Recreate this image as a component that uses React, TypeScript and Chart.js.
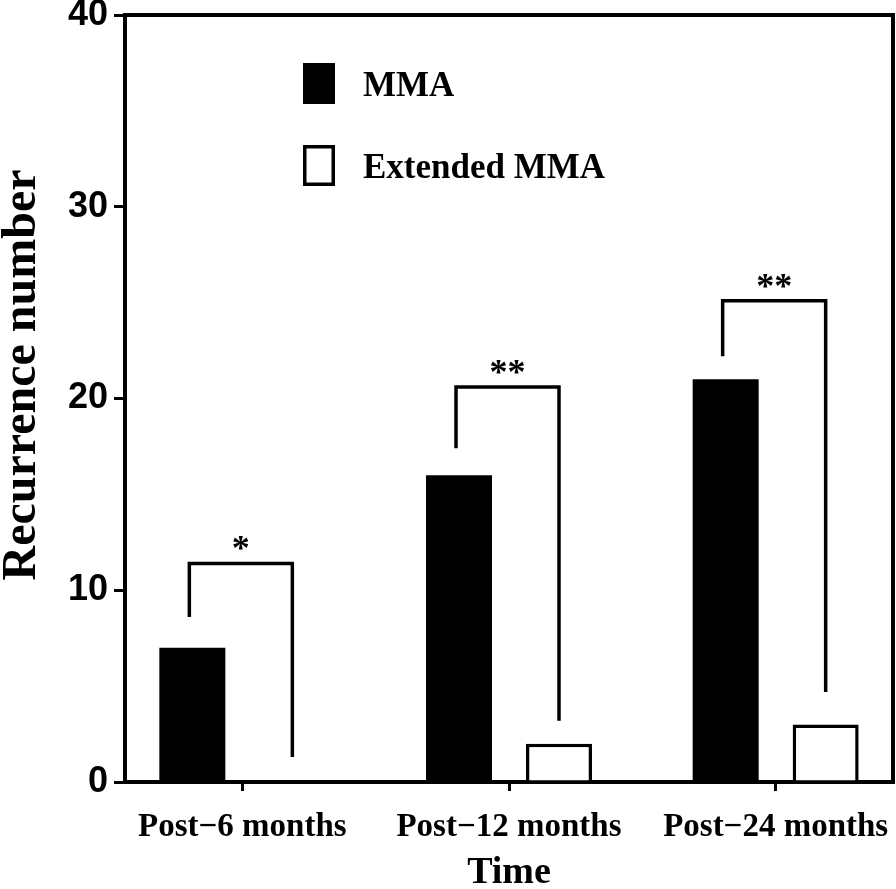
import React, { useEffect, useRef } from "react";
import { Chart, registerables } from "chart.js";

Chart.register(...registerables);

// ---- data ----
const categories = ["Post−6 months", "Post−12 months", "Post−24 months"];
const seriesLabels = ["MMA", "Extended MMA"];
const mmaValues = [7, 16, 21];
const extendedValues = [0, 2, 3];
const yTickValues = [0, 10, 20, 30, 40];
// significance brackets (data units)
const bracketTop = [11.4, 20.6, 25.1];
const bracketLeftEnd = [8.6, 17.4, 22.2];
const bracketRightEnd = [1.3, 3.2, 4.7];
const significance = ["*", "**", "**"];
const xTitle = "Time";
const yTitle = "Recurrence number";

const SERIF = "'Liberation Serif', 'Times New Roman', Times, serif";
const SANS = "'Liberation Sans', Arial, Helvetica, sans-serif";

function fillInkCentered(ctx: CanvasRenderingContext2D, text: string, x: number, cy: number) {
  ctx.textBaseline = "alphabetic";
  const m = ctx.measureText(text);
  const asc = m.actualBoundingBoxAscent;
  const desc = m.actualBoundingBoxDescent;
  ctx.fillText(text, x, cy + (asc - desc) / 2);
}

const decorations = {
  id: "decorations",
  afterDatasetsDraw(chart: any) {
    const { ctx, chartArea, scales } = chart;
    const y = scales.y;
    const m0 = chart.getDatasetMeta(0);
    const m1 = chart.getDatasetMeta(1);
    ctx.save();
    ctx.strokeStyle = "#000";
    ctx.fillStyle = "#000";
    ctx.lineCap = "butt";
    ctx.lineJoin = "miter";

    // frame (top + right)
    ctx.lineWidth = 4;
    ctx.beginPath();
    ctx.moveTo(chartArea.left, chartArea.top);
    ctx.lineTo(chartArea.right, chartArea.top);
    ctx.lineTo(chartArea.right, chartArea.bottom);
    ctx.stroke();

    // brackets
    ctx.lineWidth = 3.5;
    categories.forEach((_, i) => {
      const xl = m0.data[i].x - 3;
      const xr = m1.data[i].x;
      const yt = y.getPixelForValue(bracketTop[i]);
      ctx.beginPath();
      ctx.moveTo(xl, y.getPixelForValue(bracketLeftEnd[i]));
      ctx.lineTo(xl, yt);
      ctx.lineTo(xr, yt);
      ctx.lineTo(xr, y.getPixelForValue(bracketRightEnd[i]));
      ctx.stroke();
      ctx.font = `bold 36px ${SERIF}`;
      ctx.textAlign = "center";
      fillInkCentered(ctx, significance[i], (xl + xr) / 2, yt - 20);
    });

    // legend
    const boxX = 303, boxW = 32, boxH = 41;
    const boxTops = [63, 145];
    chart.data.datasets.forEach((ds: any, i: number) => {
      const top = boxTops[i];
      ctx.fillStyle = ds.backgroundColor;
      ctx.fillRect(boxX, top, boxW, boxH);
      ctx.strokeStyle = "#000";
      ctx.lineWidth = 3.5;
      ctx.strokeRect(boxX + 1.75, top + 1.75, boxW - 3.5, boxH - 3.5);
      ctx.fillStyle = "#000";
      ctx.font = `bold 35px ${SERIF}`;
      ctx.textAlign = "left";
      fillInkCentered(ctx, ds.label, 363, top + boxH / 2);
    });

    // y title
    ctx.translate(17.5, 375);
    ctx.rotate(-Math.PI / 2);
    ctx.font = `bold 48px ${SERIF}`;
    ctx.textAlign = "center";
    ctx.fillStyle = "#000";
    fillInkCentered(ctx, yTitle, 0, 0);
    ctx.restore();
  },
};

export default function App() {
  const ref = useRef<HTMLCanvasElement | null>(null);
  useEffect(() => {
    if (!ref.current) return;
    const chart = new Chart(ref.current, {
      type: "bar",
      data: {
        datasets: [
          {
            label: seriesLabels[0],
            data: mmaValues.map((v, i) => ({ x: i, y: v })),
            backgroundColor: "#000",
            borderColor: "#000",
            borderWidth: 0,
            categoryPercentage: 0.75,
            barPercentage: 0.66,
          },
          {
            label: seriesLabels[1],
            data: extendedValues.map((v, i) => ({ x: i, y: v })),
            backgroundColor: "#fff",
            borderColor: "#000",
            borderWidth: 3.5,
            categoryPercentage: 0.75,
            barPercentage: 0.66,
          },
        ],
      } as any,
      options: {
        responsive: false,
        animation: false,
        devicePixelRatio: 1,
        layout: { padding: { top: 15, right: 3, bottom: 0, left: 0 } },
        plugins: { legend: { display: false }, tooltip: { enabled: false } },
        scales: {
          x: {
            type: "linear",
            offset: false,
            min: -0.44,
            max: 2.44,
            afterBuildTicks: (s: any) => {
              s.ticks = categories.map((_, i) => ({ value: i }));
            },
            afterFit: (s: any) => {
              s.height = 107;
              s.paddingLeft = 0;
              s.paddingRight = 0;
            },
            ticks: {
              autoSkip: false,
              maxRotation: 0,
              padding: 17,
              color: "#000",
              font: { family: SERIF, weight: "bold", size: 33 },
              callback: (v: any) => categories[v as number] ?? "",
            },
            grid: { offset: false, drawOnChartArea: false, tickLength: 9, lineWidth: 3, color: "#000" },
            border: { display: true, color: "#000", width: 4 },
            title: {
              display: true,
              text: xTitle,
              color: "#000",
              font: { family: SERIF, weight: "bold", size: 38, lineHeight: 1 },
              padding: { top: 0, bottom: -3.5 },
            },
          },
          y: {
            min: 0,
            max: 40,
            afterBuildTicks: (s: any) => {
              s.ticks = yTickValues.map((v) => ({ value: v }));
            },
            afterFit: (s: any) => {
              s.width = 125;
              s.paddingTop = 0;
              s.paddingBottom = 0;
            },
            ticks: {
              padding: 6,
              color: "#000",
              font: { family: SANS, weight: "bold", size: 36 },
            },
            grid: { drawOnChartArea: false, tickLength: 11, lineWidth: 3, color: "#000" },
            border: { display: true, color: "#000", width: 4 },
          },
        },
      } as any,
      plugins: [decorations],
    });
    return () => chart.destroy();
  }, []);
  return (
    <canvas
      ref={ref}
      width={896}
      height={889}
      style={{ position: "absolute", left: 0, top: 0, display: "block" }}
    />
  );
}
